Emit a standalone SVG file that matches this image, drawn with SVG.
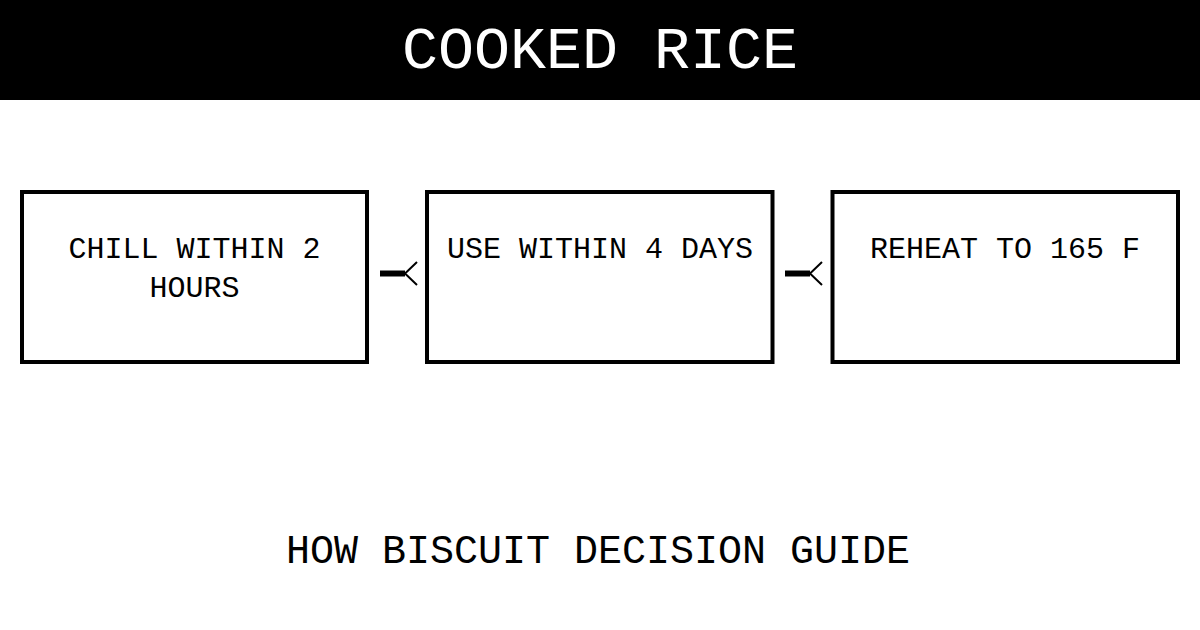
<svg xmlns="http://www.w3.org/2000/svg" width="1200" height="630" viewBox="0 0 1200 630">
<style>
.box{fill:#fff;stroke:#000;stroke-width:4}
.t{font-family:"Liberation Mono","DejaVu Sans Mono",monospace;fill:#000;text-anchor:middle}
.nt{font-size:30px}
.bar{stroke:#000;stroke-width:6}
</style>
<defs>
<marker id="chev" markerUnits="userSpaceOnUse" markerWidth="30" markerHeight="30" viewBox="-2 -15 18 30" refX="0" refY="0" orient="auto" overflow="visible">
<path d="M12,-11.5 L0,0 L12,11.5" fill="none" stroke="#000" stroke-width="2"/>
</marker>
</defs>
<rect x="0" y="0" width="1200" height="630" fill="#fff"/>
<g id="header">
<rect x="0" y="0" width="1200" height="100" fill="#000"/>
<text class="t" x="600" y="67.5" font-size="60" style="fill:#fff">COOKED RICE</text>
</g>
<g id="connectors">
<line class="bar" x1="380" y1="273.5" x2="405" y2="273.5" marker-end="url(#chev)"/>
<line class="bar" x1="785" y1="273.5" x2="810" y2="273.5" marker-end="url(#chev)"/>
</g>
<g id="node-chill">
<rect class="box" x="22" y="192" width="345" height="170"/>
<text class="t nt" x="194.5" y="258">CHILL WITHIN 2</text>
<text class="t nt" x="194.5" y="297">HOURS</text>
</g>
<g id="node-use">
<rect class="box" x="427" y="192" width="345.5" height="170"/>
<text class="t nt" x="600" y="258">USE WITHIN 4 DAYS</text>
</g>
<g id="node-reheat">
<rect class="box" x="832.5" y="192" width="345.5" height="170"/>
<text class="t nt" x="1005" y="258">REHEAT TO 165 F</text>
</g>
<g id="footer">
<text class="t" x="598" y="563" font-size="40">HOW BISCUIT DECISION GUIDE</text>
</g>
</svg>
